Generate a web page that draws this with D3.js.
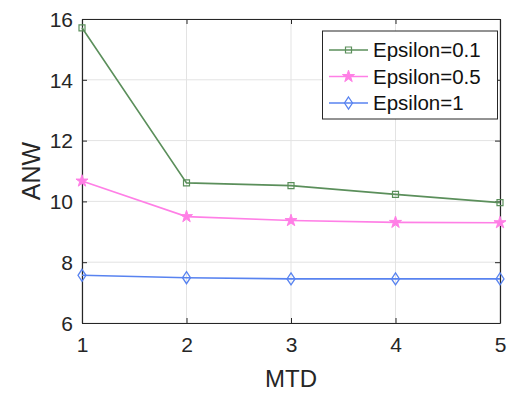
<!DOCTYPE html>
<html><head><meta charset="utf-8">
<script src="https://cdn.jsdelivr.net/npm/d3@7"></script>
<style>body{margin:0;background:#fff}</style>
</head><body><svg id="c" width="507" height="393"></svg>
<script>
const xValues = [1, 2, 3, 4, 5];
const eps01 = [15.71, 10.61, 10.52, 10.23, 9.96];
const eps05 = [10.67, 9.50, 9.37, 9.31, 9.30];
const eps1 = [7.57, 7.49, 7.45, 7.45, 7.45];
const yTicks = [6, 8, 10, 12, 14, 16];
const seriesNames = ["Epsilon=0.1", "Epsilon=0.5", "Epsilon=1"];

const svg = d3.select("#c");
const m = {l: 82, t: 19, r: 500, b: 323};
const x = d3.scaleLinear().domain([1, 5]).range([m.l, m.r]);
const y = d3.scaleLinear().domain([6, 16]).range([m.b, m.t]);
const font = "Liberation Sans, Arial, sans-serif";

// grid
svg.append("g").selectAll("line").data(xValues).join("line")
  .attr("x1", d => x(d)).attr("x2", d => x(d)).attr("y1", m.t).attr("y2", m.b)
  .attr("stroke", "#e3e3e3").attr("stroke-width", 1);
svg.append("g").selectAll("line").data(yTicks).join("line")
  .attr("y1", d => y(d)).attr("y2", d => y(d)).attr("x1", m.l).attr("x2", m.r)
  .attr("stroke", "#e3e3e3").attr("stroke-width", 1);

// axes
const ax = svg.append("g").attr("transform", `translate(0,${m.b})`)
  .call(d3.axisBottom(x).tickValues(xValues).tickSizeInner(-5).tickSizeOuter(0).tickPadding(14).tickFormat(d3.format("d")));
const ay = svg.append("g").attr("transform", `translate(${m.l},0)`)
  .call(d3.axisLeft(y).tickValues(yTicks).tickSizeInner(-5).tickSizeOuter(0).tickPadding(9));
const axT = svg.append("g").attr("transform", `translate(0,${m.t})`)
  .call(d3.axisTop(x).tickValues(xValues).tickSizeInner(-5).tickSizeOuter(0).tickFormat(""));
const ayR = svg.append("g").attr("transform", `translate(${m.r},0)`)
  .call(d3.axisRight(y).tickValues(yTicks).tickSizeInner(-5).tickSizeOuter(0).tickFormat(""));
[ax, ay, axT, ayR].forEach(g => {
  g.select(".domain").attr("stroke", "#262626").attr("stroke-width", 1.2);
  g.selectAll(".tick line").attr("stroke", "#262626");
  g.selectAll(".tick text").attr("font-family", font).attr("font-size", 21).attr("fill", "#262626");
});
ay.selectAll(".tick text").attr("dy", "0.35em");

// labels
svg.append("text").attr("x", (m.l + m.r) / 2).attr("y", 387).attr("text-anchor", "middle")
  .attr("font-family", font).attr("font-size", 24).attr("fill", "#262626").text("MTD");
svg.append("text").attr("transform", `translate(40,${(m.t + m.b) / 2}) rotate(-90)`).attr("text-anchor", "middle")
  .attr("font-family", font).attr("font-size", 25).attr("fill", "#262626").text("ANW");

const colors = ["#5b8f5b", "#ff7fe6", "#5883f0"];
const data = [eps01, eps05, eps1];
const line = d3.line().x((d, i) => x(xValues[i])).y(d => y(d));

const sq = d3.symbol().type(d3.symbolSquare).size(36);
const star = d3.symbol().type(d3.symbolStar).size(45);
function diamond(g, cx, cy, c) {
  g.append("path").attr("d", `M${cx},${cy-6}L${cx+4},${cy}L${cx},${cy+6}L${cx-4},${cy}Z`)
    .attr("fill", "none").attr("stroke", c).attr("stroke-width", 1.3);
}
function marker(g, k, cx, cy) {
  const c = colors[k];
  if (k === 0) g.append("path").attr("d", sq()).attr("transform", `translate(${cx},${cy})`).attr("fill", "none").attr("stroke", c).attr("stroke-width", 1.2);
  else if (k === 1) g.append("path").attr("d", star()).attr("transform", `translate(${cx},${cy})`).attr("fill", c).attr("stroke", c).attr("stroke-width", 1);
  else diamond(g, cx, cy, c);
}

data.forEach((s, k) => {
  const g = svg.append("g");
  g.append("path").datum(s).attr("d", line).attr("fill", "none").attr("stroke", colors[k]).attr("stroke-width", 1.6);
  s.forEach((v, i) => marker(g, k, x(xValues[i]), y(v)));
});

// legend
const lg = svg.append("g");
lg.append("rect").attr("x", 322.5).attr("y", 31).attr("width", 175).attr("height", 88)
  .attr("fill", "#fff").attr("stroke", "#262626").attr("stroke-width", 1);
seriesNames.forEach((n, k) => {
  const cy = 50 + k * 26.5;
  lg.append("line").attr("x1", 329).attr("x2", 368).attr("y1", cy).attr("y2", cy).attr("stroke", colors[k]).attr("stroke-width", 1.4);
  marker(lg, k, 348.5, cy);
  lg.append("text").attr("x", 373).attr("y", cy).attr("dy", "0.35em").attr("font-family", font)
    .attr("font-size", 20.5).attr("fill", "#111").text(n);
});
</script></body></html>
